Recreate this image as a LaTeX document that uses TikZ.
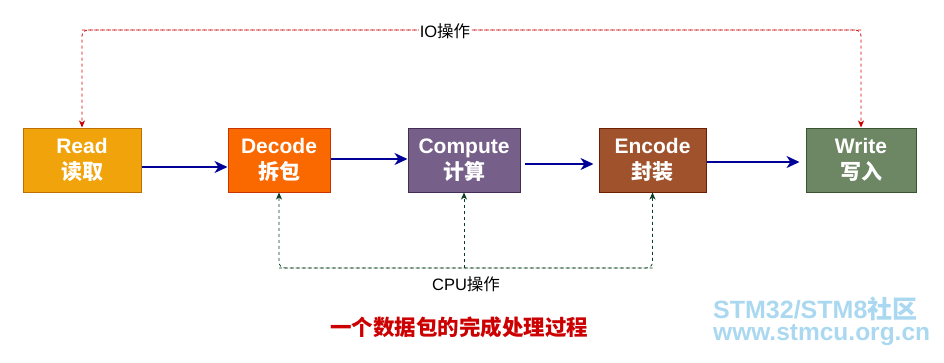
\documentclass[tikz,border=0pt]{standalone}
\usepackage{fontspec}
\setmainfont{Liberation Sans}
\newfontfamily\cjk{Noto Sans CJK SC}
\usetikzlibrary{arrows.meta}
\definecolor{readf}{HTML}{F0A30A}\definecolor{readd}{HTML}{BD7000}
\definecolor{decf}{HTML}{FA6800}\definecolor{decd}{HTML}{C73500}
\definecolor{compf}{HTML}{76608A}\definecolor{compd}{HTML}{432D57}
\definecolor{encf}{HTML}{A0522D}\definecolor{encd}{HTML}{6D1F00}
\definecolor{wrf}{HTML}{6D8764}\definecolor{wrd}{HTML}{3A5431}
\definecolor{flowblue}{HTML}{000099}
\definecolor{iored}{HTML}{CC0000}
\definecolor{cpugreen}{HTML}{0A3D22}
\definecolor{wm}{HTML}{A9D8F0}
\begin{document}
\begin{tikzpicture}[x=1pt,y=-1pt,
  stage/.style={draw, line width=1pt, minimum height=64pt, inner sep=0pt, text=white,
    font=\fontsize{21}{26}\selectfont\bfseries, align=center},
  flow/.style={draw=flowblue, line width=2pt, -{Stealth[length=13pt,width=12pt,inset=4pt]}},
  iolink/.style={draw=iored, line width=0.8pt, dash pattern=on 3pt off 3pt, rounded corners=6pt,
    -{Stealth[length=7pt,width=6pt,inset=2pt]}},
  cpulink/.style={draw=cpugreen, line width=0.8pt, dash pattern=on 3pt off 3pt, rounded corners=6pt,
    -{Stealth[length=7pt,width=6pt,inset=2pt]}},
  lbl/.style={fill=white, inner sep=1pt, font=\fontsize{16.5}{18}\selectfont},
  wmtext/.style={text=wm, anchor=west, inner sep=0pt, text height=0.72em, text depth=0pt}]
\useasboundingbox (0,0) rectangle (944,362);
\node[stage, fill=readf, draw=readd, minimum width=118pt] (read) at (82,160) {Read\\{\cjk 读取}};
\node[stage, fill=decf, draw=decd, minimum width=102pt] (dec) at (279,160) {Decode\\{\cjk 拆包}};
\node[stage, fill=compf, draw=compd, minimum width=112pt] (comp) at (464,160) {Compute\\{\cjk 计算}};
\node[stage, fill=encf, draw=encd, minimum width=107pt] (enc) at (652.5,160) {Encode\\{\cjk 封装}};
\node[stage, fill=wrf, draw=wrd, minimum width=110pt] (wr) at (861,160) {Write\\{\cjk 写入}};
% flow arrows
\draw[flow] (read.east |- 0,167) -- (dec.west |- 0,167);
\draw[flow] (dec.east |- 0,159) -- (comp.west |- 0,159);
\draw[flow] ([xshift=4pt]comp.east |- 0,164) -- ([xshift=-5pt]enc.west |- 0,164);
\draw[flow] (enc.east |- 0,162) -- ([xshift=-6pt]wr.west |- 0,162);
% IO link
\coordinate (iotopL) at (82,30);
\coordinate (iotopR) at (861,30);
\draw[iolink] (iotopL) -- (iotopR) -- (wr.north);
\draw[iolink] (iotopR) -- (iotopL) -- (read.north);
\node[lbl] (io) at (445,31) {IO{\cjk 操作}};
% CPU link
\coordinate (cpuL) at (279,268);
\coordinate (cpuR) at (652.5,268);
\draw[cpulink] (cpuR) -- (cpuL) -- (dec.south);
\draw[cpulink] (cpuL) -- (cpuR) -- (enc.south);
\draw[cpulink] (464,268) -- (comp.south);
\node[font=\fontsize{16.5}{18}\selectfont] (cpu) at (466,284) {CPU{\cjk 操作}};
% title
\node[text=iored, font=\cjk\fontsize{21.5}{24}\selectfont\bfseries] (title) at (459,327) {一个数据包的完成处理过程};
% watermark
\node[wmtext, font=\fontsize{25}{26}\selectfont\bfseries] (wm1) at (713,315) {STM32/STM8{\cjk 社区}};
\node[wmtext, font=\fontsize{24.5}{26}\selectfont\bfseries, text height=0.55em] (wm2) at (713,338) {www.stmcu.org.cn};
\end{tikzpicture}
\end{document}
